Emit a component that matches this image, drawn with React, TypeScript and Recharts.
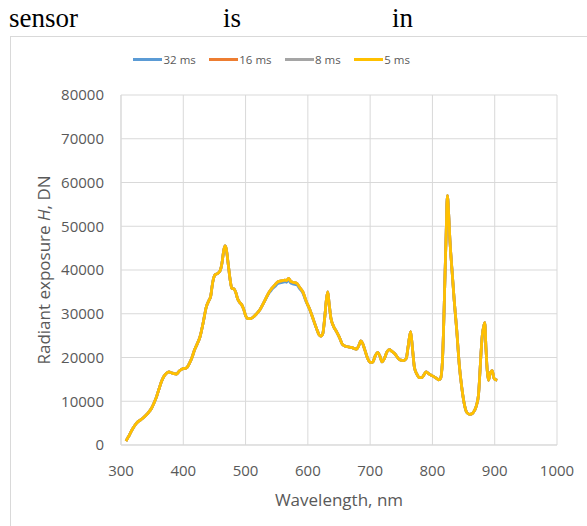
import React from 'react';
import { LineChart, Line, XAxis, YAxis, CartesianGrid } from 'recharts';

// Wavelength samples (nm)
const wavelengthNm = [
  308, 312, 316, 320, 325, 332, 338, 344, 349, 353, 357, 361, 365, 369, 373, 377, 381, 385, 389, 393,
  397, 401, 405, 410, 414, 418, 422, 427, 432, 437, 441, 444, 447, 451, 455, 459, 462, 465, 467, 469,
  472, 475, 478, 481, 484, 487, 490, 494, 497, 500, 504, 508, 512, 517, 523, 528, 534, 538, 542, 547,
  552, 557, 563, 566, 569, 572, 576, 582, 587, 592, 597, 603, 609, 614, 618, 621, 624, 627, 630, 632,
  634, 637, 641, 646, 651, 656, 662, 670, 678, 682, 685, 688, 692, 696, 700, 704, 708, 712, 716, 719,
  723, 727, 731, 735, 740, 745, 749, 754, 758, 761, 765, 768, 771, 775, 779, 783, 787, 790, 795, 800,
  806, 810, 813, 816, 818, 820, 822, 824, 826, 828, 831, 835, 839, 843, 847, 851, 855, 860, 864, 868,
  871, 874, 876, 878, 880, 883, 884, 886, 888, 890, 893, 896, 899, 902, 904,
];

// Radiant exposure H (DN) per exposure time
const exposure32ms = [
  900, 1900, 3000, 4000, 5000, 5800, 6500, 7400, 8400, 9600, 11000, 12800, 14500, 15700, 16400, 16700, 16500, 16300, 16200, 16800,
  17300, 17500, 17600, 18700, 20000, 21700, 23000, 24800, 28000, 31600, 33000, 34000, 37000, 38900, 39200, 39800, 41500, 44500, 45500, 44800,
  41500, 38000, 35800, 35700, 35000, 33500, 32700, 32000, 31000, 29600, 28900, 28900, 29200, 29900, 30900, 32200, 33800, 34800, 35500, 36200,
  36900, 37100, 37300, 37200, 37700, 37100, 36800, 36600, 35700, 34700, 32800, 31000, 28600, 26600, 25200, 24900, 25500, 29000, 33500, 35000,
  32500, 29000, 27200, 25900, 24500, 22900, 22500, 22300, 21900, 22800, 23800, 23200, 21500, 19800, 18900, 18900, 20300, 21200, 20200, 19000,
  19800, 21300, 21800, 21400, 20800, 19800, 19400, 19300, 19800, 22500, 25900, 22000, 17800, 16200, 15400, 15400, 16200, 16700, 16200, 15800,
  15300, 14900, 15200, 19000, 27000, 37700, 48000, 57000, 53000, 47000, 40800, 33000, 26300, 18500, 13300, 9500, 7500, 7000, 7200, 8000,
  9200, 11500, 16000, 21000, 25000, 27500, 28000, 22000, 17000, 14800, 16500, 17000, 15200, 14900, 14800,
];

const exposure16ms = [
  900, 1900, 3000, 4000, 5000, 5800, 6500, 7400, 8400, 9600, 11000, 12800, 14500, 15700, 16400, 16700, 16500, 16300, 16200, 16800,
  17300, 17500, 17600, 18700, 20000, 21700, 23000, 24800, 28000, 31600, 33000, 34000, 37000, 38900, 39200, 39800, 41500, 44500, 45500, 44800,
  41500, 38000, 35800, 35700, 35000, 33500, 32700, 32000, 31000, 29600, 28900, 28900, 29200, 29900, 30900, 32200, 33900, 35000, 35800, 36600,
  37300, 37500, 37700, 37600, 38100, 37500, 37200, 37000, 36000, 35000, 33000, 31000, 28600, 26600, 25200, 24900, 25500, 29000, 33500, 35000,
  32500, 29000, 27200, 25900, 24500, 22900, 22500, 22300, 21900, 22800, 23800, 23200, 21500, 19800, 18900, 18900, 20300, 21200, 20200, 19000,
  19800, 21300, 21800, 21400, 20800, 19800, 19400, 19300, 19800, 22500, 25900, 22000, 17800, 16200, 15400, 15400, 16200, 16700, 16200, 15800,
  15300, 14900, 15200, 19000, 27000, 37700, 48000, 57000, 53000, 47000, 40800, 33000, 26300, 18500, 13300, 9500, 7500, 7000, 7200, 8000,
  9200, 11500, 16000, 21000, 25000, 27500, 28000, 22000, 17000, 14800, 16500, 17000, 15200, 14900, 14800,
];

const exposure8ms = [
  900, 1900, 3000, 4000, 5000, 5800, 6500, 7400, 8400, 9600, 11000, 12800, 14500, 15700, 16400, 16700, 16500, 16300, 16200, 16800,
  17300, 17500, 17600, 18700, 20000, 21700, 23000, 24800, 28000, 31600, 33000, 34000, 37000, 38900, 39200, 39800, 41500, 44500, 45500, 44800,
  41500, 38000, 35800, 35700, 35000, 33500, 32700, 32000, 31000, 29600, 28900, 28900, 29200, 29900, 30900, 32200, 33900, 35000, 35800, 36600,
  37300, 37500, 37700, 37600, 38100, 37500, 37200, 37000, 36000, 35000, 33000, 31000, 28600, 26600, 25200, 24900, 25500, 29000, 33500, 35000,
  32500, 29000, 27200, 25900, 24500, 22900, 22500, 22300, 21900, 22800, 23800, 23200, 21500, 19800, 18900, 18900, 20300, 21200, 20200, 19000,
  19800, 21300, 21800, 21400, 20800, 19800, 19400, 19300, 19800, 22500, 25900, 22000, 17800, 16200, 15400, 15400, 16200, 16700, 16200, 15800,
  15300, 14900, 15200, 19000, 27000, 37700, 48000, 57000, 53000, 47000, 40800, 33000, 26300, 18500, 13300, 9500, 7500, 7000, 7200, 8000,
  9200, 11500, 16000, 21000, 25000, 27500, 28000, 22000, 17000, 14800, 16500, 17000, 15200, 14900, 14800,
];

const exposure5ms = [
  900, 1900, 3000, 4000, 5000, 5800, 6500, 7400, 8400, 9600, 11000, 12800, 14500, 15700, 16400, 16700, 16500, 16300, 16200, 16800,
  17300, 17500, 17600, 18700, 20000, 21700, 23000, 24800, 28000, 31600, 33000, 34000, 37000, 38900, 39200, 39800, 41500, 44500, 45500, 44800,
  41500, 38000, 35800, 35700, 35000, 33500, 32700, 32000, 31000, 29600, 28900, 28900, 29200, 29900, 30900, 32200, 33900, 35000, 35800, 36600,
  37300, 37500, 37700, 37600, 38100, 37500, 37200, 37000, 36000, 35000, 33000, 31000, 28600, 26600, 25200, 24900, 25500, 29000, 33500, 35000,
  32500, 29000, 27200, 25900, 24500, 22900, 22500, 22300, 21900, 22800, 23800, 23200, 21500, 19800, 18900, 18900, 20300, 21200, 20200, 19000,
  19800, 21300, 21800, 21400, 20800, 19800, 19400, 19300, 19800, 22500, 25900, 22000, 17800, 16200, 15400, 15400, 16200, 16700, 16200, 15800,
  15300, 14900, 15200, 19000, 27000, 37700, 48000, 57000, 53000, 47000, 40800, 33000, 26300, 18500, 13300, 9500, 7500, 7000, 7200, 8000,
  9200, 11500, 16000, 21000, 25000, 27500, 28000, 22000, 17000, 14800, 16500, 17000, 15200, 14900, 14800,
];

const seriesNames = ['32 ms', '16 ms', '8 ms', '5 ms'];
const seriesKeys = ['e32', 'e16', 'e8', 'e5'];
const seriesColors = ['#5B9BD5', '#ED7D31', '#A5A5A5', '#FFC000'];

const xTicks = [300, 400, 500, 600, 700, 800, 900, 1000];
const yTicks = [0, 10000, 20000, 30000, 40000, 50000, 60000, 70000, 80000];

const data = wavelengthNm.map((wl, i) => ({
  wl,
  e32: exposure32ms[i],
  e16: exposure16ms[i],
  e8: exposure8ms[i],
  e5: exposure5ms[i],
}));

const axisFont = '"Open Sans", sans-serif';
const textGrey = '#595959';
const gridGrey = '#D9D9D9';

const YTitle = (props: any) => {
  const vb = props.viewBox || {};
  const cy = (vb.y ?? 95) + (vb.height ?? 350) / 2;
  const x = 50;
  return (
    <text
      x={x}
      y={cy}
      transform={`rotate(-90, ${x}, ${cy})`}
      textAnchor="middle"
      fontFamily={axisFont}
      fontSize={17}
      fill={textGrey}
    >
      Radiant exposure <tspan fontStyle="italic">H</tspan>, DN
    </text>
  );
};

const LegendRow = () => (
  <div
    style={{
      position: 'absolute',
      left: 133,
      top: 52,
      display: 'flex',
      alignItems: 'center',
      fontFamily: axisFont,
      fontSize: 11.5,
      color: textGrey,
      whiteSpace: 'nowrap',
    }}
  >
    {seriesNames.map((name, i) => (
      <div key={name} style={{ display: 'flex', alignItems: 'center', marginRight: 13 }}>
        <span style={{ display: 'inline-block', width: 29, height: 2.5, background: seriesColors[i], marginRight: 1.5 }} />
        <span>{name}</span>
      </div>
    ))}
  </div>
);

export default function App() {
  return (
    <div style={{ position: 'absolute', left: 0, top: 0, width: 587, height: 526, background: '#fff', overflow: 'hidden' }}>
      <div
        style={{
          position: 'absolute',
          top: 0,
          left: 0,
          width: 587,
          fontFamily: '"Liberation Serif", "Times New Roman", serif',
          fontSize: 27,
          color: '#000',
        }}
      >
        <span style={{ position: 'absolute', left: 9, top: 3 }}>sensor</span>
        <span style={{ position: 'absolute', left: 223, top: 3 }}>is</span>
        <span style={{ position: 'absolute', left: 392, top: 3 }}>in</span>
      </div>
      <div
        style={{
          position: 'absolute',
          left: 10,
          top: 36,
          width: 620,
          height: 520,
          border: `1px solid ${gridGrey}`,
          boxSizing: 'border-box',
        }}
      />
      <LegendRow />
      <div style={{ position: 'absolute', left: 0, top: 0 }}>
        <LineChart width={587} height={526} data={data} margin={{ top: 95, right: 30, bottom: 51, left: 61 }}>
          <CartesianGrid stroke={gridGrey} strokeWidth={1} />
          <XAxis
            dataKey="wl"
            type="number"
            domain={[300, 1000]}
            ticks={xTicks}
            height={30}
            tickLine={false}
            tickMargin={14}
            axisLine={{ stroke: gridGrey }}
            tick={{ fill: textGrey, fontSize: 15, fontFamily: axisFont }}
            label={{
              value: 'Wavelength, nm',
              position: 'bottom',
              offset: 19,
              fill: textGrey,
              fontSize: 17,
              fontFamily: axisFont,
            }}
          />
          <YAxis
            type="number"
            domain={[0, 80000]}
            ticks={yTicks}
            width={60}
            tickLine={false}
            tickMargin={11}
            axisLine={{ stroke: gridGrey }}
            tick={{ fill: textGrey, fontSize: 15, fontFamily: axisFont }}
            label={<YTitle />}
          />
          {seriesKeys.map((k, i) => (
            <Line
              key={k}
              type="monotone"
              dataKey={k}
              name={seriesNames[i]}
              stroke={seriesColors[i]}
              strokeWidth={2.75}
              dot={false}
              activeDot={false}
              isAnimationActive={false}
            />
          ))}
        </LineChart>
      </div>
    </div>
  );
}
